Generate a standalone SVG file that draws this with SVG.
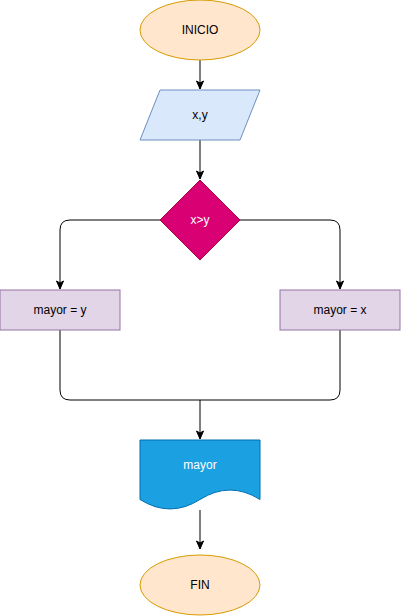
<svg xmlns="http://www.w3.org/2000/svg" width="401" height="616" viewBox="0 0 401 616">
<defs>
<marker id="arr" markerUnits="userSpaceOnUse" markerWidth="10" markerHeight="10" viewBox="0 0 10 10" refX="9" refY="5" orient="auto">
<path d="M1,1.5 L9,5 L1,8.5 L3,5 Z" fill="#000" stroke="#000" stroke-width="1"/>
</marker>
</defs>
<style>
text{font-family:"Liberation Sans",Arial,sans-serif;font-size:12px;text-anchor:middle;dominant-baseline:central}
.c{fill:none;stroke:#000;stroke-width:1}
.term{fill:#ffe6cc;stroke:#d79b00}
.proc{fill:#e1d5e7;stroke:#9673a6}
</style>
<g id="connectors">
<path class="c" d="M200,60 L200,89" marker-end="url(#arr)"/>
<path class="c" d="M200,140 L200,179" marker-end="url(#arr)"/>
<path class="c" d="M160,220 L70,220 Q60,220 60,230 L60,289" marker-end="url(#arr)"/>
<path class="c" d="M240,220 L330,220 Q340,220 340,230 L340,289" marker-end="url(#arr)"/>
<path class="c" d="M60,330 L60,390 Q60,400 70,400 L200,400 L200,439" marker-end="url(#arr)"/>
<path class="c" d="M340,330 L340,390 Q340,400 330,400 L200,400"/>
<path class="c" d="M200,510 L200,549" marker-end="url(#arr)"/>
</g>
<g id="inicio">
<ellipse class="term" cx="200" cy="30" rx="60" ry="30"/>
<text x="200" y="30">INICIO</text>
</g>
<g id="input">
<path d="M160,90 L260,90 L240,140 L140,140 Z" fill="#dae8fc" stroke="#6c8ebf"/>
<text x="200" y="115">x,y</text>
</g>
<g id="decision">
<path d="M200,180 L240,220 L200,260 L160,220 Z" fill="#d80073" stroke="#a50040"/>
<text x="200" y="220" fill="#fff">x&gt;y</text>
</g>
<g id="mayor-y">
<rect class="proc" x="0" y="290" width="120" height="40"/>
<text x="60" y="310">mayor = y</text>
</g>
<g id="mayor-x">
<rect class="proc" x="280" y="290" width="120" height="40"/>
<text x="340" y="310">mayor = x</text>
</g>
<g id="output">
<path d="M140,440 L260,440 L260,499.5 Q230,480.6 200,499.5 Q170,518.4 140,499.5 Z" fill="#1ba1e2" stroke="#006eaf"/>
<text x="200" y="465" fill="#fff">mayor</text>
</g>
<g id="fin">
<ellipse class="term" cx="200" cy="585" rx="60" ry="30"/>
<text x="200" y="585">FIN</text>
</g>
</svg>
